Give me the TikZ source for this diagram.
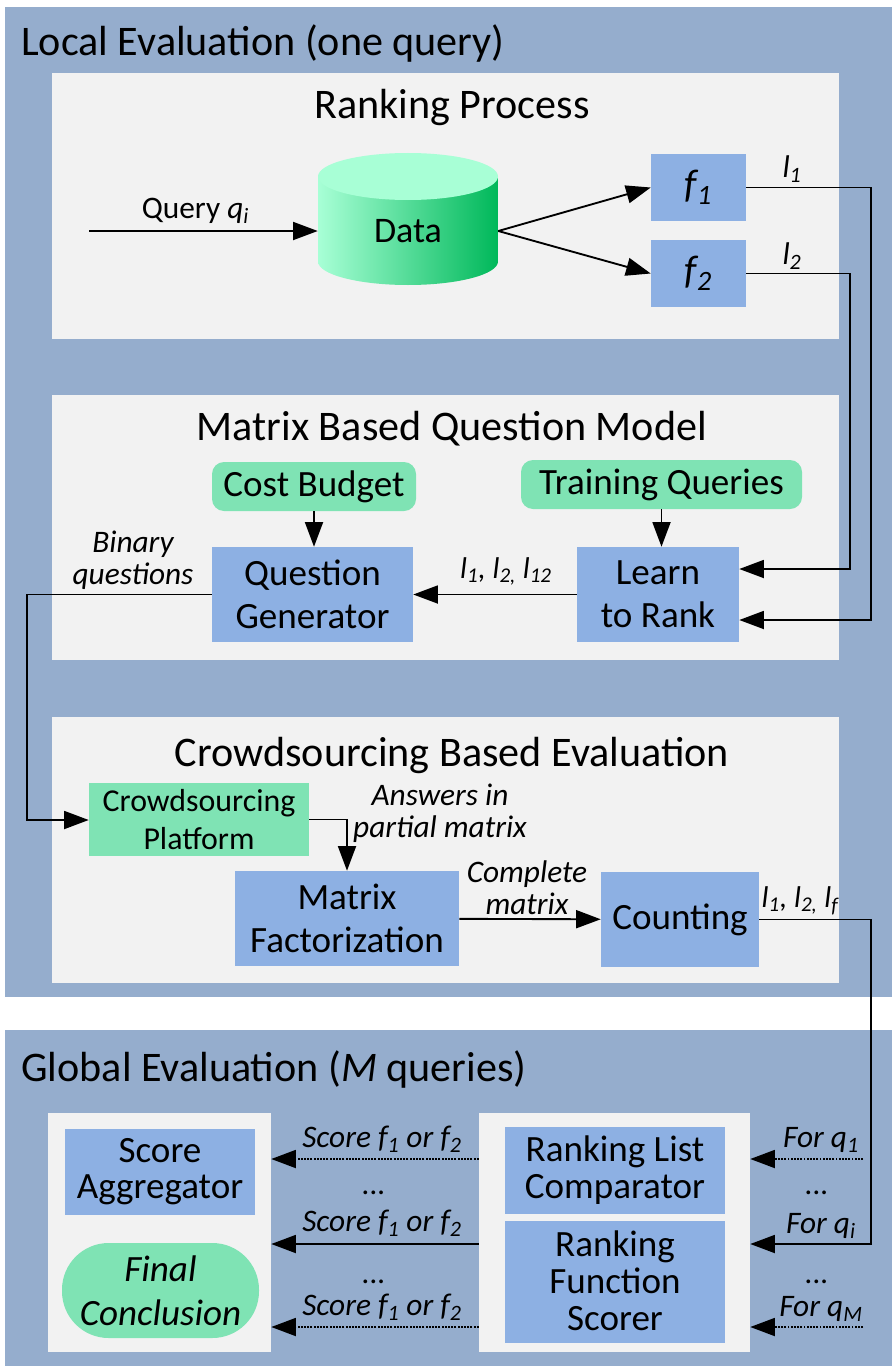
\documentclass[tikz,border=0pt]{standalone}
\usepackage{xcolor}
\usepackage{fontspec}
\setmainfont{Carlito}
\usepackage{tikz}
\usetikzlibrary{arrows.meta}
\definecolor{outerblue}{HTML}{95ADCD}
\definecolor{panelgray}{HTML}{F2F2F2}
\definecolor{boxblue}{HTML}{8DB0E3}
\definecolor{boxgreen}{HTML}{7FE3B4}
\definecolor{cyllight}{HTML}{A8FFD6}
\definecolor{cyldark}{HTML}{00B85A}
\tikzset{boxsize/.style 2 args={minimum width=#1*0.75pt, minimum height=#2*0.75pt}}
\tikzstyle{outer} = [rectangle, inner sep=0pt, fill=outerblue]
\tikzstyle{panel} = [rectangle, inner sep=0pt, fill=panelgray]
\tikzstyle{process} = [rectangle, inner sep=0pt, text centered, align=center, fill=boxblue, font=\fontsize{27.8}{32.5}\selectfont]
\tikzstyle{source} = [rectangle, rounded corners=9pt, inner sep=0pt, text centered, align=center, fill=boxgreen, font=\fontsize{27.8}{32.5}\selectfont]
\tikzstyle{title} = [inner sep=0pt, font=\fontsize{31.6}{36}\selectfont]
\tikzstyle{label} = [inner sep=0pt, align=center, font=\fontsize{23.5}{24}\selectfont\itshape]
\tikzstyle{arrow} = [line width=1.4pt,-{Triangle[length=18.5pt,width=13.5pt]}]
\tikzstyle{dotarrow} = [arrow, densely dotted]

\begin{document}
\begin{tikzpicture}[x=0.75pt,y=-0.75pt]
    \useasboundingbox (0,0) rectangle (892,1366);

    % Backgrounds
    \node (local) [outer, boxsize={887}{990}] at (448.5,502) {};
    \node (global) [outer, boxsize={887}{336}] at (448.5,1198) {};
    \node (rp) [panel, boxsize={787}{266}] at (445.5,206) {};
    \node (mq) [panel, boxsize={787}{265}] at (445.5,527.5) {};
    \node (ce) [panel, boxsize={787}{266}] at (445.5,850) {};
    \node (pa) [panel, boxsize={223}{239}] at (159.5,1232.5) {};
    \node (pb) [panel, boxsize={271}{239}] at (614.5,1232.5) {};

    % Titles
    \node (tl) [title, anchor=west] at (21,43) {Local Evaluation (one query)};
    \node (tg) [title, anchor=west] at (21,1069) {Global Evaluation (\textit{M} queries)};
    \node (t1) [title] at (452,107) {Ranking Process};
    \node (t2) [title] at (452,429) {Matrix Based Question Model};
    \node (t3) [title] at (452,755) {Crowdsourcing Based Evaluation};

    % Ranking process
    \node (data) [rectangle, inner sep=0pt, boxsize={180}{132}] at (408,219) {};
    \shade [left color=cyllight, right color=cyldark] (318,176.5) -- (318,261.5) arc [start angle=180, end angle=0, x radius=90, y radius=23.5] -- (498,176.5) -- cycle;
    \fill [cyllight] (408,176.5) ellipse (90 and 23.5);
    \node (datat) [inner sep=0pt, font=\fontsize{27}{32}\selectfont] at (408,231) {Data};
    \node (f1) [process, boxsize={95}{67}, font=\fontsize{30}{32}\selectfont] at (698.5,187.5) {\textit{f\textsubscript{1}}};
    \node (f2) [process, boxsize={95}{67}, font=\fontsize{30}{32}\selectfont] at (698.5,273.5) {\textit{f\textsubscript{2}}};
    \coordinate (query) at (89,231);
    \node (lq) [label, font=\fontsize{23.5}{24}\selectfont] at (195.5,211) {Query \textit{q\textsubscript{i}}};
    \node (l1) [label] at (792,169) {l\textsubscript{1}};
    \node (l2) [label] at (792,256) {l\textsubscript{2}};

    % Question model
    \node (cb) [source, boxsize={204}{49}] at (314,486.5) {Cost Budget};
    \node (tq) [source, boxsize={281}{49}] at (661.5,484.5) {\raisebox{-1pt}{Training Queries}};
    \node (qg) [process, boxsize={201}{95}] at (312.5,594.5) {Question\\Generator};
    \node (lr) [process, boxsize={162}{95}] at (658,594.5) {Learn\\to Rank};
    \node (lb) [label] at (133,560.5) {Binary\\questions};
    \node (ll) [label, font=\fontsize{22.5}{24}\selectfont\itshape] at (506,571.5) {l\textsubscript{1}, l\textsubscript{2,} l\textsubscript{12}};

    % Crowdsourcing
    \node (cp) [source, rounded corners=0pt, boxsize={220}{73}, font=\fontsize{23.9}{28}\selectfont] at (199,819.5) {Crowdsourcing\\Platform};
    \node (mf) [process, boxsize={224}{95}] at (347,918.5) {Matrix\\Factorization};
    \node (co) [process, boxsize={158}{95}] at (680,919.5) {Counting};
    \node (la) [label] at (440,813) {Answers in\\partial matrix};
    \node (lc) [label] at (527,888) {Complete\\matrix};
    \node (lf) [label, font=\fontsize{22.5}{24}\selectfont\itshape] at (800,901) {l\textsubscript{1}, l\textsubscript{2,} l\textsubscript{f}};

    % Global evaluation
    \node (sa) [process, boxsize={190}{86}, font=\fontsize{27.8}{27}\selectfont] at (160,1172) {Score\\Aggregator};
    \node (fc) [source, rounded corners=35pt, boxsize={197}{95}, font=\fontsize{27.8}{33}\selectfont\itshape] at (160.5,1290.5) {Final\\Conclusion};
    \node (rc) [process, boxsize={220}{87}, font=\fontsize{27.8}{27.8}\selectfont] at (615,1170.5) {Ranking List\\Comparator};
    \node (rs) [process, boxsize={220}{122}, font=\fontsize{27.8}{27.8}\selectfont] at (615,1282) {\raisebox{2pt}{Ranking}\\\raisebox{2pt}{Function}\\\raisebox{2pt}{Scorer}};
    \coordinate (r1) at (863,1159);
    \coordinate (r2) at (871,1244);
    \coordinate (r3) at (863,1327);
    \node (s1) [label] at (382,1139) {Score f\textsubscript{1} or f\textsubscript{2}};
    \node (s2) [label] at (382,1223) {Score f\textsubscript{1} or f\textsubscript{2}};
    \node (s3) [label] at (382,1307) {Score f\textsubscript{1} or f\textsubscript{2}};
    \node (d1) [label] at (374,1193) {...};
    \node (d2) [label] at (374,1282) {...};
    \node (d3) [label] at (817,1193) {...};
    \node (d4) [label] at (817,1282) {...};
    \node (q1) [label] at (821,1140) {For q\textsubscript{1}};
    \node (qi) [label] at (821,1226) {For q\textsubscript{i}};
    \node (qm) [label] at (821,1309) {For q\textsubscript{M}};

    % Arrows
    \coordinate (bus1) at (871,620);
    \coordinate (bus2) at (850,569);
    \coordinate (wire) at (27,820);
    \draw [arrow] (query) -- (data.west |- query);
    \draw [arrow] (data.east |- query) -- (f1.west);
    \draw [arrow] (data.east |- query) -- (f2.west);
    \draw [arrow] (f1.east) -| (bus1) -- (lr.east |- bus1);
    \draw [arrow] (f2.east) -| (bus2) -- (lr.east |- bus2);
    \draw [arrow] (cb) -- (cb |- qg.north);
    \draw [arrow] (tq) -- (tq |- lr.north);
    \draw [arrow] (lr) -- (qg);
    \draw [arrow] (qg.west) -| (wire) -- (cp.west |- wire);
    \draw [arrow] (cp.east) -| (mf.north);
    \draw [arrow] (mf) -- (co);
    \draw [arrow] (co.east) -| (r2) -- (pb.east |- r2);
    \draw [dotarrow] (r1) -- (pb.east |- r1);
    \draw [dotarrow] (r3) -- (pb.east |- r3);
    \draw [dotarrow] (pb.west |- r1) -- (pa.east |- r1);
    \draw [arrow] (pb.west |- r2) -- (pa.east |- r2);
    \draw [dotarrow] (pb.west |- r3) -- (pa.east |- r3);

\end{tikzpicture}
\end{document}
